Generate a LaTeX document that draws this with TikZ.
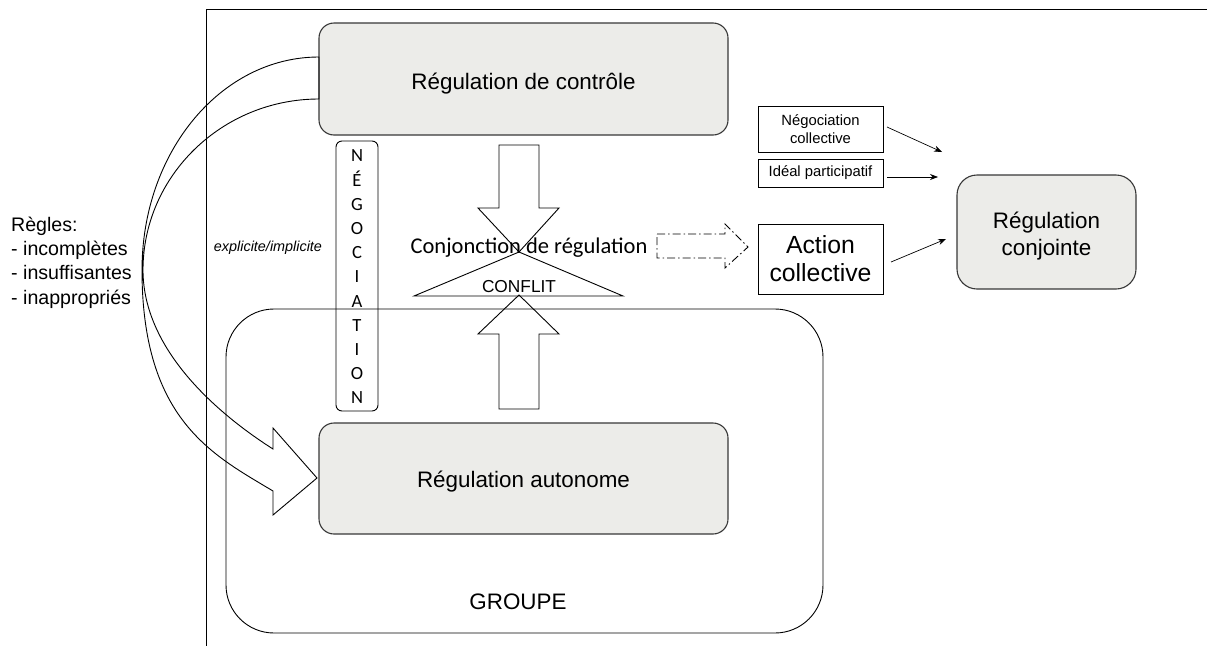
\documentclass[tikz,border=0pt]{standalone}
\usepackage{fontspec}
\setmainfont{Liberation Sans}
\newfontfamily\carlito{Carlito}
\usetikzlibrary{arrows.meta}
\definecolor{boxfill}{RGB}{236,236,233}
\definecolor{boxline}{RGB}{55,55,55}
\begin{document}
\begin{tikzpicture}[x=1pt,y=-1pt,
  regbox/.style={draw=boxline, line width=1.1pt, fill=boxfill, rounded corners=15pt, inner sep=0pt},
  plainbox/.style={draw, line width=0.9pt, inner sep=0pt},
  groupbox/.style={draw, line width=0.9pt, rounded corners=48pt, inner sep=0pt},
  blockarrow/.style={draw, line width=0.9pt, line join=miter},
  thinarrow/.style={line width=0.7pt, -{Stealth[length=8pt,width=6pt]}},
  bigtext/.style={font=\fontsize{22.4}{27}\selectfont},
]
\useasboundingbox (0,0) rectangle (1207,646);

% group box
\node[groupbox, minimum width=597pt, minimum height=324pt] (groupe) at (524.5,471) {};
\node[bigtext] (grouplbl) at (518,602) {GROUPE};

% frame
\draw[line width=0.9pt] (1207,9.5) -- (206,9.5) -- (206,646);

% regulation boxes
\node[regbox, minimum width=409pt, minimum height=112pt] (ctrl) at (523.5,79) {};
\node[bigtext, anchor=base, inner sep=0pt] (ctrltxt) at (523.5,89) {Régulation de contrôle};
\node[regbox, minimum width=409pt, minimum height=111pt] (auto) at (523.5,478.5) {};
\node[bigtext, anchor=base, inner sep=0pt] (autotxt) at (523.5,487) {Régulation autonome};
\node[regbox, rounded corners=20pt, minimum width=179pt, minimum height=114pt] (conj) at (1046.5,232) {};
\node[bigtext, align=center, inner sep=0pt] (conjtxt) at (1046.5,236.5) {Régulation\\conjointe};

% negotiation vertical box
\node[plainbox, rounded corners=6pt, minimum width=42pt, minimum height=270pt] (nego) at (357,276) {};
\node[font=\carlito\fontsize{18.6}{24.2}\selectfont, align=center, inner sep=0pt] (negotxt) at (357,277)
  {N\\É\\G\\O\\C\\I\\A\\T\\I\\O\\N};

% texts
\node[font=\fontsize{19.6}{24.3}\selectfont, align=left, anchor=north west, inner sep=0pt] (regles) at (11,216.5)
  {Règles:\\- incomplètes\\- insuffisantes\\- inappropriés};
\node[font=\itshape\fontsize{14.4}{17}\selectfont] (explicite) at (268,248) {explicite/implicite};

% curved block arrow
\draw[blockarrow] (319,57) .. controls (221,57) and (142,152) .. (142,270)
  .. controls (142,420) and (213,455) .. (273,491) -- (273,515) -- (317,478) -- (273,428) -- (273,449)
  .. controls (218,414) and (143,350) .. (143,270)
  .. controls (143,176) and (222,99) .. (319,99) -- cycle;

% vertical block arrows and conflict triangle
\draw[blockarrow] (499,145) -- (539,145) -- (539,208) -- (559,208) -- (519,252) -- (478,208) -- (499,208) -- cycle;
\draw[blockarrow] (499,409) -- (539,409) -- (539,334) -- (559,334) -- (519,295) -- (478,334) -- (499,334) -- cycle;
\draw[blockarrow] (414,296) -- (623,296) -- (519,252) -- cycle;
\node[font=\carlito\fontsize{22.5}{27}\selectfont] (conjonction) at (529,248) {Conjonction de régulation};
\node[font=\fontsize{17.3}{20}\selectfont] (conflit) at (519,287) {CONFLIT};

% dash-dot block arrow
\draw[blockarrow, line width=0.9pt, dash pattern=on 8pt off 3pt on 1.5pt off 3pt]
  (657,234) -- (725,234) -- (725,224) -- (748,247) -- (725,268) -- (725,258) -- (657,258) -- cycle;

% right boxes
\node[plainbox, minimum width=125pt, minimum height=46pt, align=center, font=\fontsize{14.8}{18}\selectfont] (negcoll) at (820.5,129) {Négociation\\collective};
\node[plainbox, minimum width=125pt, minimum height=28pt, font=\fontsize{14.8}{18}\selectfont] (ideal) at (820.5,173) {Idéal participatif};
\node[plainbox, minimum width=125pt, minimum height=70pt, align=center, font=\fontsize{24.8}{28}\selectfont] (action) at (820.5,259) {Action\\collective};

% thin arrows
\coordinate (s1) at (887,127); \coordinate (e1) at (942,152);
\coordinate (s2) at (887,177); \coordinate (e2) at (938,177);
\coordinate (s3) at (891,262); \coordinate (e3) at (946,239);
\draw[thinarrow] (s1) -- (e1);
\draw[thinarrow] (s2) -- (e2);
\draw[thinarrow] (s3) -- (e3);
\end{tikzpicture}
\end{document}
